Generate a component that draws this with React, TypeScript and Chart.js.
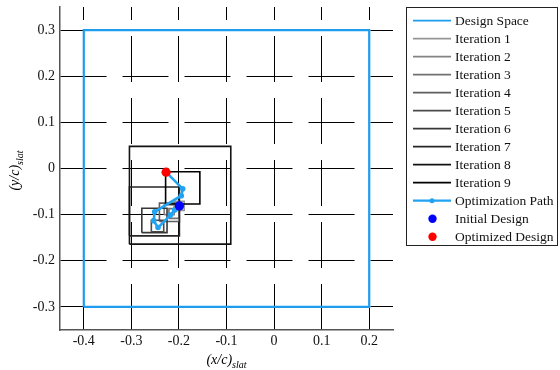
import React, { useEffect, useRef } from "react";
import { Chart, registerables } from "chart.js";

Chart.register(...registerables);

// ---------- data ----------
const xMin = -0.45;
const xMax = 0.25;
const yMin = -0.35;
const yMax = 0.35;
const xTickValues = [-0.4, -0.3, -0.2, -0.1, 0, 0.1, 0.2];
const yTickValues = [-0.3, -0.2, -0.1, 0, 0.1, 0.2, 0.3];

const designSpaceX = [-0.4, 0.2];
const designSpaceY = [-0.3, 0.3];

const iterationLabels = [
  "Iteration 1", "Iteration 2", "Iteration 3", "Iteration 4", "Iteration 5",
  "Iteration 6", "Iteration 7", "Iteration 8", "Iteration 9",
];
const iterXLow = [-0.209, -0.231, -0.221, -0.241, -0.258, -0.278, -0.304, -0.304, -0.228];
const iterXHigh = [-0.189, -0.210, -0.200, -0.199, -0.232, -0.225, -0.199, -0.091, -0.156];
const iterYLow = [-0.091, -0.100, -0.108, -0.115, -0.137, -0.139, -0.146, -0.164, -0.077];
const iterYHigh = [-0.071, -0.079, -0.087, -0.075, -0.112, -0.086, -0.040, 0.048, -0.007];

const pathX = [-0.199, -0.209, -0.218, -0.244, -0.253, -0.251, -0.195, -0.192, -0.227];
const pathY = [-0.081, -0.090, -0.101, -0.128, -0.113, -0.094, -0.059, -0.044, -0.008];

const initialDesign = { x: -0.199, y: -0.081 };
const optimizedDesign = { x: -0.227, y: -0.008 };

// ---------- styles ----------
const FONT = "'Liberation Serif', 'Times New Roman', serif";
const designBlue = "#1e9cf0";
const pathBlue = "#22a2f2";
const iterGray = (i: number) => {
  const g = Math.round(150 * (1 - i / 8));
  return `rgb(${g},${g},${g})`;
};

const rect = (x0: number, x1: number, y0: number, y1: number) => [
  { x: x0, y: y0 }, { x: x1, y: y0 }, { x: x1, y: y1 }, { x: x0, y: y1 }, { x: x0, y: y0 },
];

const fmt = (v: number) => {
  const n = Number(v.toFixed(2));
  return n === 0 ? "0" : String(n);
};

type LegendItem = { label: string; kind: "line" | "path" | "dot"; color: string };
const legendItems: LegendItem[] = [
  { label: "Design Space", kind: "line", color: designBlue },
  ...iterationLabels.map((l, i) => ({ label: l, kind: "line" as const, color: iterGray(i) })),
  { label: "Optimization Path", kind: "path", color: pathBlue },
  { label: "Initial Design", kind: "dot", color: "#0000ff" },
  { label: "Optimized Design", kind: "dot", color: "#ff0000" },
];

const decorPlugin = {
  id: "decor",
  afterDraw(chart: any) {
    const ctx = chart.ctx as CanvasRenderingContext2D;
    const area = chart.chartArea;
    ctx.save();
    ctx.fillStyle = "#000";
    ctx.textBaseline = "alphabetic";
    const main = "(x/c)";
    const sub = "slat";
    ctx.font = `italic 14px ${FONT}`;
    const wMain = ctx.measureText(main).width;
    ctx.font = `italic 10px ${FONT}`;
    const wSub = ctx.measureText(sub).width;
    const cx = (area.left + area.right) / 2;
    const sx = cx - (wMain + wSub) / 2;
    ctx.font = `italic 14px ${FONT}`;
    ctx.textAlign = "left";
    ctx.fillText(main, sx, 364);
    ctx.font = `italic 10px ${FONT}`;
    ctx.fillText(sub, sx + wMain, 368);

    const ymain = "(y/c)";
    ctx.font = `italic 14px ${FONT}`;
    const wyMain = ctx.measureText(ymain).width;
    const cy = (area.top + area.bottom) / 2 + 2;
    ctx.save();
    ctx.translate(19, cy);
    ctx.rotate(-Math.PI / 2);
    const sy = -(wyMain + wSub) / 2;
    ctx.font = `italic 14px ${FONT}`;
    ctx.fillText(ymain, sy, 0);
    ctx.font = `italic 10px ${FONT}`;
    ctx.fillText(sub, sy + wyMain, 4);
    ctx.restore();

    const lx = 406.5, ly = 7.5, lw = 151, lh = 238;
    ctx.fillStyle = "#fff";
    ctx.fillRect(lx, ly, lw, lh);
    ctx.strokeStyle = "#222";
    ctx.lineWidth = 1;
    ctx.strokeRect(lx, ly, lw, lh);
    ctx.font = `13.5px ${FONT}`;
    ctx.textBaseline = "middle";
    ctx.textAlign = "left";
    legendItems.forEach((it, i) => {
      const y = 20.7 + 18 * i;
      if (it.kind === "line" || it.kind === "path") {
        ctx.strokeStyle = it.color;
        ctx.lineWidth = it.kind === "path" ? 2.2 : 1.8;
        ctx.beginPath();
        ctx.moveTo(413, y);
        ctx.lineTo(451, y);
        ctx.stroke();
        if (it.kind === "path") {
          ctx.fillStyle = it.color;
          ctx.beginPath();
          ctx.arc(432, y, 2.5, 0, Math.PI * 2);
          ctx.fill();
        }
      } else {
        ctx.fillStyle = it.color;
        ctx.beginPath();
        ctx.arc(432.5, y, 4.2, 0, Math.PI * 2);
        ctx.fill();
      }
      ctx.fillStyle = "#111";
      ctx.fillText(it.label, 455, y + 0.5);
    });
    ctx.restore();
  },
};

export default function App() {
  const ref = useRef<HTMLCanvasElement | null>(null);
  useEffect(() => {
    if (!ref.current) return;
    const datasets: any[] = [];
    datasets.push({
      label: "Design Space",
      data: rect(designSpaceX[0], designSpaceX[1], designSpaceY[0], designSpaceY[1]),
      showLine: true,
      borderColor: designBlue,
      borderWidth: 2.2,
      pointRadius: 0,
      fill: false,
      order: 100,
    });
    iterationLabels.forEach((label, i) => {
      datasets.push({
        label,
        data: rect(iterXLow[i], iterXHigh[i], iterYLow[i], iterYHigh[i]),
        showLine: true,
        borderColor: iterGray(i),
        borderWidth: 1.6,
        pointRadius: 0,
        fill: false,
        order: 50 - i,
      });
    });
    datasets.push({
      label: "Optimization Path",
      data: pathX.map((x, i) => ({ x, y: pathY[i] })),
      showLine: true,
      borderColor: pathBlue,
      backgroundColor: pathBlue,
      borderWidth: 2.6,
      pointRadius: 2.8,
      pointBorderWidth: 0,
      fill: false,
      order: 3,
    });
    datasets.push({
      label: "Initial Design",
      data: [initialDesign],
      showLine: false,
      backgroundColor: "#0000ff",
      borderWidth: 0,
      pointRadius: 4.6,
      order: 2,
    });
    datasets.push({
      label: "Optimized Design",
      data: [optimizedDesign],
      showLine: false,
      backgroundColor: "#ff0000",
      borderWidth: 0,
      pointRadius: 4.6,
      order: 1,
    });

    const tickFont = { family: FONT, size: 14 };
    const chart = new Chart(ref.current, {
      type: "scatter",
      data: { datasets },
      plugins: [decorPlugin],
      options: {
        animation: false,
        responsive: false,
        events: [],
        layout: { padding: { top: 7, right: 167, left: 0, bottom: 0 } },
        plugins: { legend: { display: false }, tooltip: { enabled: false } },
        scales: {
          x: {
            type: "linear",
            min: xMin,
            max: xMax,
            afterFit: (s: any) => { s.height = 40; s.paddingLeft = 0; s.paddingRight = 0; },
            afterBuildTicks: (s: any) => { s.ticks = xTickValues.map((value) => ({ value })); },
            ticks: {
              font: tickFont,
              color: "#111",
              padding: 3,
              maxRotation: 0,
              autoSkip: false,
              callback: (v: any) => fmt(Number(v)),
            },
            grid: { color: "#000", lineWidth: 1, drawTicks: false },
            border: { display: true, color: "#555", width: 1.5, dash: [46, 16], dashOffset: 33 },
          },
          y: {
            type: "linear",
            min: yMin,
            max: yMax,
            afterFit: (s: any) => { s.width = 60; s.paddingTop = 0; s.paddingBottom = 0; },
            afterBuildTicks: (s: any) => { s.ticks = yTickValues.map((value) => ({ value })); },
            ticks: {
              font: tickFont,
              color: "#111",
              padding: 5,
              autoSkip: false,
              callback: (v: any) => fmt(Number(v)),
            },
            grid: { color: "#000", lineWidth: 1, drawTicks: false },
            border: { display: true, color: "#555", width: 1.5, dash: [46, 16], dashOffset: 0 },
          },
        },
      } as any,
    });
    return () => chart.destroy();
  }, []);
  return (
    <div style={{ position: "absolute", left: 0, top: 0, width: 560, height: 370, background: "#fff" }}>
      <canvas ref={ref} width={560} height={370} />
    </div>
  );
}
